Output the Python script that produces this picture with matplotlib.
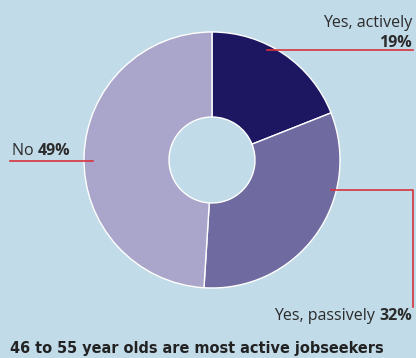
import matplotlib.pyplot as plt

# data
labels = ['Yes, actively', 'Yes, passively', 'No']
shares = [19, 32, 49]
colors = ['#1d1762', '#6f6aa0', '#aaa6cb']
title = '46 to 55 year olds are most active jobseekers'

bg = '#c2dbe8'
red = '#d8323c'
txt = '#2b2b2b'
fnt = 'Open Sans'
fs = 11.5

fig = plt.figure(figsize=(4.16, 3.58), dpi=100, facecolor=bg)
ax = fig.add_axes([0, 0, 1, 1])
ax.set_facecolor(bg)

# donut, clockwise from top
ax.pie(shares, colors=colors, startangle=90, counterclock=False,
       center=(212, 198), radius=128, frame=True,
       wedgeprops=dict(width=85, edgecolor='white', linewidth=1))
ax.set_xlim(0, 416)
ax.set_ylim(0, 358)
ax.set_aspect('equal')
ax.axis('off')

fig.canvas.draw()
rend = fig.canvas.get_renderer()


def text_width(t):
    bb = t.get_window_extent(rend)
    return bb.width


# Yes, actively
ax.plot([267, 413], [308, 308], color=red, lw=1.2)
ax.text(412, 331, labels[0], ha='right', va='baseline', fontsize=fs, color=txt, family=fnt)
ax.text(412, 311, f'{shares[0]}%', ha='right', va='baseline', fontsize=fs, color=txt,
        family=fnt, fontweight='bold')

# No
ax.plot([10, 93], [197, 197], color=red, lw=1.2)
t = ax.text(12, 203, labels[2] + ' ', ha='left', va='baseline', fontsize=fs, color=txt, family=fnt)
ax.text(12 + text_width(t), 203, f'{shares[2]}%', ha='left', va='baseline', fontsize=fs,
        color=txt, family=fnt, fontweight='bold')

# Yes, passively
ax.plot([331, 413, 413], [168, 168, 51], color=red, lw=1.2)
b = ax.text(412, 38, f'{shares[1]}%', ha='right', va='baseline', fontsize=fs, color=txt,
            family=fnt, fontweight='bold')
ax.text(412 - text_width(b), 38, labels[1] + ' ', ha='right', va='baseline', fontsize=fs,
        color=txt, family=fnt)

# title
ax.text(10, 5, title, ha='left', va='baseline', fontsize=11.6, color='#222222',
        family='DejaVu Sans', fontstretch='condensed', fontweight='bold')

fig.savefig('out.png', dpi=100, facecolor=bg)
